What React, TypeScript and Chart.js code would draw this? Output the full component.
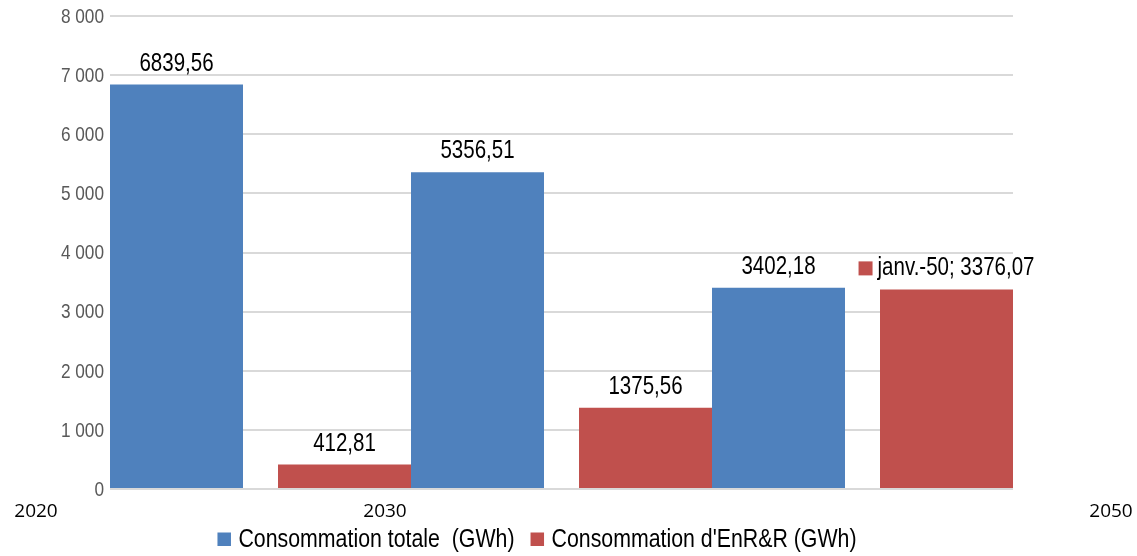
import React, { useEffect, useRef } from 'react';
import { Chart, registerables } from 'chart.js';

Chart.register(...registerables);

// ---- data ----
const slots = ['janv.-20', 'janv.-30', 'janv.-40', 'janv.-50'];
const totalValues: (number | null)[] = [6839.56, 5356.51, 3402.18, null];
const enrValues: (number | null)[] = [null, 412.81, 1375.56, 3376.07];
const enrShowCategory = [false, false, false, true];
const seriesNames = ['Consommation totale  (GWh)', "Consommation d'EnR&R (GWh)"];
const yearLabels = ['2020', '2030', '2050'];
const yMin = 0;
const yMax = 8000;
const yStep = 1000;

const BLUE = '#4F81BD';
const RED = '#C0504D';
const SANS = '"Liberation Sans", Arial, sans-serif';
const NARROW_SCALE = 0.82;

const fmtValue = (v: number) => v.toFixed(2).replace('.', ',');
const fmtTick = (v: number) => String(v).replace(/\B(?=(\d{3})+(?!\d))/g, ' ');

function narrowWidth(ctx: CanvasRenderingContext2D, text: string) {
  return ctx.measureText(text).width * NARROW_SCALE;
}
function drawNarrow(ctx: CanvasRenderingContext2D, text: string, x: number, y: number, align: CanvasTextAlign) {
  ctx.save();
  ctx.translate(x, y);
  ctx.scale(NARROW_SCALE, 1);
  ctx.textAlign = align;
  ctx.fillText(text, 0, 0);
  ctx.restore();
}

const labelsPlugin = {
  id: 'customLabels',
  afterDatasetsDraw(chart: any) {
    const ctx = chart.ctx;
    ctx.save();
    ctx.font = `25px ${SANS}`;
    ctx.textBaseline = 'alphabetic';
    ctx.fillStyle = '#000';
    chart.data.datasets.forEach((ds: any, di: number) => {
      const meta = chart.getDatasetMeta(di);
      meta.data.forEach((bar: any, i: number) => {
        const v = ds.data[i];
        if (v == null) return;
        let text = fmtValue(v);
        const withKey = ds.showCategory && ds.showCategory[i];
        if (withKey) text = `${chart.data.labels[i]}; ${text}`;
        const tw = narrowWidth(ctx, text);
        const keySize = 14;
        const keyGap = 5;
        const total = withKey ? keySize + keyGap + tw : tw;
        const left = bar.x - total / 2;
        const baseY = bar.y - 14;
        if (withKey) {
          ctx.fillStyle = ds.backgroundColor;
          ctx.fillRect(left, baseY - keySize, keySize, keySize);
          ctx.fillStyle = '#000';
        }
        drawNarrow(ctx, text, withKey ? left + keySize + keyGap : left, baseY, 'left');
      });
    });
    ctx.restore();
  },
  afterDraw(chart: any) {
    const ctx = chart.ctx;
    ctx.save();
    // y tick labels
    const ys = chart.scales.y;
    ctx.font = `21px ${SANS}`;
    ctx.fillStyle = '#595959';
    ctx.textBaseline = 'middle';
    ys.ticks.forEach((t: any) => {
      drawNarrow(ctx, fmtTick(t.value), ys.right - 6, ys.getPixelForValue(t.value) + 1, 'right');
    });
    // year labels
    ctx.font = '19px "Open Sans", Lato, sans-serif';
    ctx.fillStyle = '#000';
    ctx.textAlign = 'center';
    ctx.textBaseline = 'middle';
    const yearX = [36, 385, 1111];
    yearLabels.forEach((t, i) => ctx.fillText(t, yearX[i], 512));
    // legend
    ctx.font = `26px ${SANS}`;
    const box = 13;
    const gapBox = 8;
    const gapItem = 16;
    const colors = [BLUE, RED];
    const widths = seriesNames.map((n) => narrowWidth(ctx, n));
    const totalW = widths.reduce((a, w) => a + box + gapBox + w, 0) + gapItem;
    let x = 537 - totalW / 2;
    const cy = 539;
    seriesNames.forEach((n, i) => {
      ctx.fillStyle = colors[i];
      ctx.fillRect(x, cy - box / 2, box + 0.5, box + 0.5);
      x += box + gapBox;
      ctx.fillStyle = '#000';
      drawNarrow(ctx, n, x, cy + 1, 'left');
      x += widths[i] + gapItem;
    });
    ctx.restore();
  },
};

export default function App() {
  const ref = useRef<HTMLCanvasElement>(null);
  useEffect(() => {
    if (!ref.current) return;
    const chart = new Chart(ref.current, {
      type: 'bar',
      data: {
        labels: slots,
        datasets: [
          {
            label: seriesNames[1],
            data: enrValues,
            backgroundColor: RED,
            showCategory: enrShowCategory,
          } as any,
          {
            label: seriesNames[0],
            data: totalValues,
            backgroundColor: BLUE,
          } as any,
        ],
      },
      options: {
        animation: false,
        responsive: true,
        maintainAspectRatio: false,
        datasets: { bar: { categoryPercentage: 266 / 301, barPercentage: 1 } },
        layout: { padding: { top: 16, right: 124, bottom: 67, left: 0 } },
        plugins: { legend: { display: false }, tooltip: { enabled: false } },
        scales: {
          x: {
            type: 'category',
            offset: false,
            display: false,
            grid: { display: false },
          },
          y: {
            min: yMin,
            max: yMax,
            border: { display: false },
            grid: { color: '#D9D9D9', lineWidth: 2, drawTicks: false },
            ticks: {
              stepSize: yStep,
              display: false,
            },
            afterFit: (scale: any) => {
              scale.width = 110;
            },
          },
        },
      },
      plugins: [labelsPlugin],
    });
    return () => chart.destroy();
  }, []);
  return (
    <div style={{ position: 'absolute', left: 0, top: 0, width: 1137, height: 556, background: '#fff' }}>
      <canvas ref={ref} />
    </div>
  );
}
